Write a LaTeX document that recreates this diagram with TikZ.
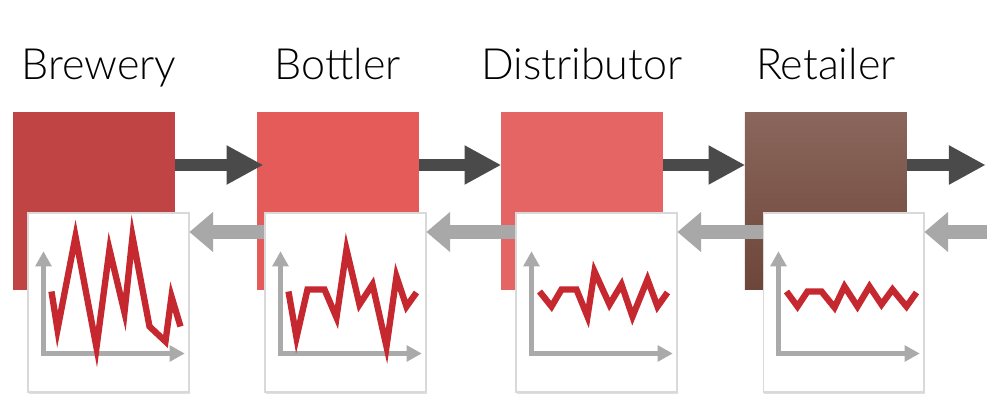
\documentclass[tikz,border=0pt]{standalone}
\usepackage{fontspec}
\IfFontExistsTF{Lato Light}{\setmainfont{Lato Light}}{\setmainfont{Lato}}
\usetikzlibrary{arrows.meta,shadows}

\definecolor{brewred}{RGB}{192,68,67}
\definecolor{bottlered}{RGB}{228,91,89}
\definecolor{distred}{RGB}{229,101,101}
\definecolor{retailtop}{RGB}{138,102,92}
\definecolor{retailbot}{RGB}{110,70,57}
\definecolor{arrowdark}{RGB}{74,74,74}
\definecolor{arrowlight}{RGB}{168,168,168}
\definecolor{axisgrey}{RGB}{170,170,170}
\definecolor{signalred}{RGB}{198,40,48}

\begin{document}
\begin{tikzpicture}[x=0.02cm,y=-0.02cm,node distance=4.88cm,every node/.style={inner sep=0pt}]
\tikzstyle{stage}=[minimum width=3.24cm,minimum height=3.56cm]
\tikzstyle{title}=[anchor=base,font=\fontsize{24.5}{28}\selectfont]
\tikzstyle{chart}=[fill=white,draw=black!15,line width=0.6pt,minimum width=3.22cm,minimum height=3.58cm,
  drop shadow={shadow xshift=0.6pt,shadow yshift=-1pt,opacity=0.25}]
\tikzstyle{order}=[draw=arrowdark,line width=6.8pt,-{Triangle[length=20.5pt,width=22.5pt,line width=0pt]}]
\tikzstyle{demand}=[draw=arrowlight,line width=7.4pt,-{Triangle[length=13.5pt,width=23pt,line width=0pt]}]
\tikzstyle{axis}=[draw=axisgrey,line width=2.3pt,
  {Triangle[length=8.5pt,width=9.6pt,line width=0pt]}-{Triangle[length=8.5pt,width=9.6pt,line width=0pt]}]
\tikzstyle{signal}=[draw=signalred,line width=3.6pt,line join=miter]

\useasboundingbox (0,0) rectangle (1000,415);

% stages
\node[stage,fill=brewred](brewery) at (94,201){};
\node[stage,fill=bottlered,right of=brewery](bottler){};
\node[stage,fill=distred,right of=bottler](distributor){};
\node[stage,top color=retailtop,bottom color=retailbot,right of=distributor](retailer){};

\node[title](tbrewery) at ([xshift=0.1cm,yshift=0.64cm]brewery.north){Brewery};
\node[title](tbottler) at ([yshift=0.64cm]bottler.north){Bottler};
\node[title](tdistributor) at ([yshift=0.64cm]distributor.north){Distributor};
\node[title](tretailer) at ([yshift=0.64cm]retailer.north){Retailer};

% charts
\node[chart](chart1) at (108.5,302.5){};
\node[chart](chart2) at (345.5,302.5){};
\node[chart](chart3) at (596.5,302.5){};
\node[chart](chart4) at (843.5,302.5){};

\begin{scope}[shift={(chart1.north west)}]
\draw[axis] (16,39) |- (157,141);
\draw[signal] (24,79) -- (30,117) -- (48,24) -- (69,135) -- (82,37) -- (97,100) -- (105,24)
  -- (122,114) -- (138,129) -- (144,84) -- (153,114);
\end{scope}
\begin{scope}[shift={(chart2.north west)}]
\draw[axis] (16,39) |- (157,141);
\draw[signal] (24,79) -- (32,125) -- (43,77) -- (60,77) -- (72,105) -- (82,37) -- (95,92)
  -- (108,72) -- (122,134) -- (132,64) -- (142,94) -- (152,80);
\end{scope}
\begin{scope}[shift={(chart3.north west)}]
\draw[axis] (16,39) |- (157,141);
\draw[signal] (24,79) -- (36,94) -- (46,77) -- (61,77) -- (72,104) -- (79,59) -- (94,92)
  -- (106,72) -- (117,104) -- (132,67) -- (142,94) -- (152,80);
\end{scope}
\begin{scope}[shift={(chart4.north west)}]
\draw[axis] (16,39) |- (157,141);
\draw[signal] (24,79) -- (35,94) -- (45,79) -- (59,79) -- (72,95) -- (82,74) -- (95,94)
  -- (107,74) -- (119,92) -- (130,77) -- (144,94) -- (154,80);
\end{scope}

% flows
\coordinate (fwdrow) at (0,165);
\coordinate (backrow) at (0,232);
\coordinate (sink) at (985,165);
\coordinate (market) at (987,232);

\draw[order,shorten >=-0.12cm] (brewery.east |- fwdrow) -- (bottler.west |- fwdrow);
\draw[order] (bottler.east |- fwdrow) -- (distributor.west |- fwdrow);
\draw[order] (distributor.east |- fwdrow) -- (retailer.west |- fwdrow);
\draw[order] (retailer.east |- fwdrow) -- (sink);

\draw[demand] (chart2.west |- backrow) -- (chart1.east |- backrow);
\draw[demand] (chart3.west |- backrow) -- (chart2.east |- backrow);
\draw[demand] (chart4.west |- backrow) -- (chart3.east |- backrow);
\draw[demand] (market) -- (chart4.east |- backrow);
\end{tikzpicture}
\end{document}
